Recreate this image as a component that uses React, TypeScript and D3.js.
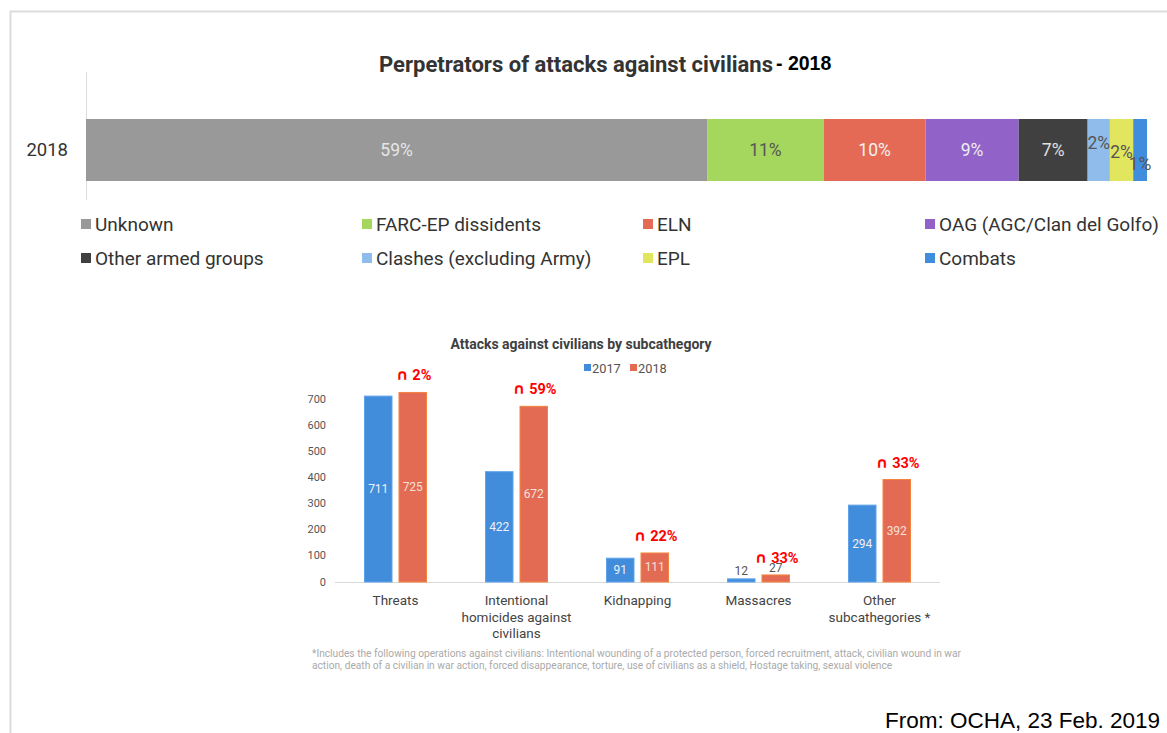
import React from "react";
import * as d3 from "d3";

// ---- Top stacked bar data ----
const perpCategories = ["Unknown", "FARC-EP dissidents", "ELN", "OAG (AGC/Clan del Golfo)", "Other armed groups", "Clashes (excluding Army)", "EPL", "Combats"];
const perpShares = [58.6, 11.0, 9.6, 8.8, 6.5, 2.1, 2.2, 1.3];
const perpLabels = ["59%", "11%", "10%", "9%", "7%", "2%", "2%", "1%"];
const perpColors = ["#999999", "#a5d65e", "#e56a55", "#9163c9", "#404040", "#8fbcea", "#e2e65f", "#3f8ddc"];
const perpLabelColors = ["#e6e6e6", "#555555", "#f2f2f2", "#eeeeee", "#e0e0e0", "#555555", "#555555", "#555555"];
const perpLabelDy = [0, 0, 0, 0, 0, -7, 2, 14];
const perpYear = "2018";

// ---- Bottom grouped bar data ----
const subCategories = [["Threats"], ["Intentional", "homicides against", "civilians"], ["Kidnapping"], ["Massacres"], ["Other", "subcathegories *"]];
const values2017 = [711, 422, 91, 12, 294];
const values2018 = [725, 672, 111, 27, 392];
const changeLabels = ["2%", "59%", "22%", "33%", "33%"];
const yTicks = [0, 100, 200, 300, 400, 500, 600, 700];
const seriesNames = ["2017", "2018"];
const footnoteLines = [
  "*Includes the following operations against civilians: Intentional wounding of a protected person, forced recruitment, attack, civilian wound in war",
  "action, death of a civilian in war action, forced disappearance, torture, use of civilians as a shield, Hostage taking, sexual violence",
];

const FONT = "Roboto, 'Noto Sans', sans-serif";

export default function App() {
  // top chart scales
  const total = d3.sum(perpShares);
  const xTop = d3.scaleLinear().domain([0, total]).range([86, 1147]);
  const starts = d3.cumsum([0, ...perpShares]);
  const barY = 119;
  const barH = 62;

  // bottom chart scales
  const x0 = d3.scaleBand<number>().domain(d3.range(subCategories.length)).range([335, 940]);
  const y = d3.scaleLinear().domain([0, 700]).range([582, 399]);
  const bw = 27.5;
  const gap = 7;
  const blue = "#418ddc";
  const blueStroke = "#5fa3ea";
  const orange = "#e36a53";
  const orangeStroke = "#f5843f";

  return (
    <svg width={1167} height={733} style={{ position: "absolute", left: 0, top: 0, background: "#fff" }} fontFamily={FONT}>
      {/* frame */}
      <line x1={10} y1={11.5} x2={1167} y2={11.5} stroke="#dcdcdc" strokeWidth={2} />
      <line x1={10.5} y1={11} x2={10.5} y2={733} stroke="#dcdcdc" strokeWidth={2} />

      {/* top title */}
      <text x={379} y={72} fontSize={21.5} fontWeight={700} fill="#333" textLength={394} lengthAdjust="spacingAndGlyphs">Perpetrators of attacks against civilians</text>
      <text x={776} y={70} fontSize={19.5} fontWeight={700} fill="#000" fontFamily="'Liberation Sans', Arial, sans-serif">- 2018</text>

      {/* axis line */}
      <line x1={86.5} y1={72} x2={86.5} y2={200} stroke="#dddddd" strokeWidth={1} />
      <text x={68} y={barY + barH / 2} fontSize={18.5} fill="#333" textAnchor="end" dominantBaseline="central">{perpYear}</text>

      {perpShares.map((v, i) => {
        const x1 = xTop(starts[i]);
        const x2 = xTop(starts[i] + v);
        return (
          <g key={i}>
            <rect x={x1} y={barY} width={x2 - x1} height={barH} fill={perpColors[i]} />
            <text x={(x1 + x2) / 2} y={barY + barH / 2 + perpLabelDy[i]} fontSize={17.5} fill={perpLabelColors[i]} textAnchor="middle" dominantBaseline="central">{perpLabels[i]}</text>
          </g>
        );
      })}

      {/* top legend */}
      {perpCategories.map((c, i) => {
        const col = i % 4;
        const row = Math.floor(i / 4);
        const lx = [81, 362, 643, 925][col];
        const ly = 224 + row * 34;
        return (
          <g key={c}>
            <rect x={lx} y={ly - 5} width={10} height={10} fill={perpColors[i]} />
            <text x={lx + 14} y={ly} fontSize={19} fill="#333" dominantBaseline="central">{c}</text>
          </g>
        );
      })}

      {/* bottom title */}
      <text x={581} y={349} fontSize={14} fontWeight={700} fill="#404040" textAnchor="middle">Attacks against civilians by subcathegory</text>
      {/* bottom legend */}
      {seriesNames.map((s, i) => (
        <g key={s}>
          <rect x={584 + i * 46} y={364} width={7} height={7} fill={i === 0 ? blue : orange} />
          <text x={592 + i * 46} y={368} fontSize={12.8} fill="#555" dominantBaseline="central">{s}</text>
        </g>
      ))}

      {/* y axis ticks */}
      {yTicks.map((t) => (
        <text key={t} x={326} y={y(t)} fontSize={11} fill="#555" textAnchor="end" dominantBaseline="central">{t}</text>
      ))}
      <line x1={335} x2={940} y1={y(0) + 0.5} y2={y(0) + 0.5} stroke="#d9d9d9" strokeWidth={1} />

      {subCategories.map((lines, i) => {
        const cx = (x0(i) as number) + x0.bandwidth() / 2;
        const bx = cx - gap / 2 - bw;
        const ox = cx + gap / 2;
        const v1 = values2017[i];
        const v2 = values2018[i];
        const small = v2 < 50;
        return (
          <g key={i}>
            <rect x={bx} y={y(v1)} width={bw} height={y(0) - y(v1)} fill={blue} stroke={blueStroke} strokeWidth={1} />
            <rect x={ox} y={y(v2)} width={bw} height={y(0) - y(v2)} fill={orange} stroke={orangeStroke} strokeWidth={1} />
            {small ? (
              <>
                <text x={bx + bw / 2} y={y(v1) - 8} fontSize={12} fill="#555" textAnchor="middle" dominantBaseline="central">{v1}</text>
                <text x={ox + bw / 2} y={y(v2) - 7} fontSize={12} fill="#555" textAnchor="middle" dominantBaseline="central">{v2}</text>
              </>
            ) : (
              <>
                <text x={bx + bw / 2} y={(y(v1) + y(0)) / 2} fontSize={12} fill="#f0f0f0" textAnchor="middle" dominantBaseline="central">{v1}</text>
                <text x={ox + bw / 2} y={(y(v2) + y(0)) / 2} fontSize={12} fill="#f3e0da" textAnchor="middle" dominantBaseline="central">{v2}</text>
              </>
            )}
            <text x={ox + bw / 2 + 1} y={y(v2) - 12} fontSize={14.5} fontWeight={700} fill="#ff0000" textAnchor="middle">
              <tspan fontFamily="'DejaVu Sans', sans-serif" fontSize={15}>∩</tspan>
              <tspan dx={4}>{changeLabels[i]}</tspan>
            </text>
            {lines.map((l, j) => (
              <text key={j} x={cx} y={600 + j * 16.5} fontSize={13.5} fill="#444" textAnchor="middle" dominantBaseline="central">{l}</text>
            ))}
          </g>
        );
      })}

      {/* footnote */}
      {footnoteLines.map((l, i) => (
        <text key={i} x={312} y={653 + i * 12} fontSize={10.2} fill="#aaaaaa" dominantBaseline="central">{l}</text>
      ))}

      <text x={1160} y={728} fontSize={22.5} fill="#000" textAnchor="end" fontFamily="'Liberation Sans', Arial, sans-serif">From: OCHA, 23 Feb. 2019</text>
    </svg>
  );
}
